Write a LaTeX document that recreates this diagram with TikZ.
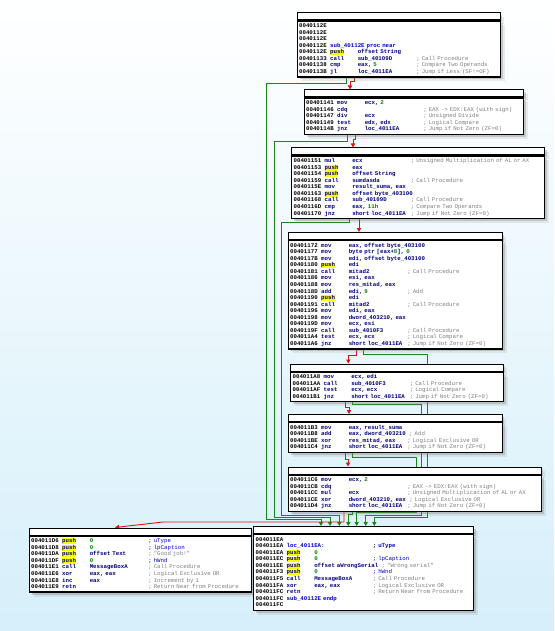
\documentclass[tikz,border=0pt]{standalone}
\usepackage{fontspec}
\usetikzlibrary{arrows.meta,calc,shadows}
\newfontfamily\asmfont{Liberation Mono}
\definecolor{addrc}{HTML}{000000}
\definecolor{mnc}{HTML}{000080}
\definecolor{namec}{HTML}{0000C8}
\definecolor{numc}{HTML}{008000}
\definecolor{cmtc}{HTML}{808080}
\definecolor{hlc}{HTML}{FFFF00}
\definecolor{gedgec}{HTML}{138A13}
\definecolor{redgec}{HTML}{E41010}
\definecolor{bgbot}{HTML}{D6EFFA}
\newlength\chw \setlength\chw{3.45pt}
\newcommand\asmnum[1]{\textcolor{numc}{#1}}
\newcommand\asmblue[1]{\textcolor{namec}{#1}}
\newcommand\asmpush{{\setlength\fboxsep{0pt}\colorbox{hlc}{\rule[-1.3pt]{0pt}{5.6pt}push}}}
\newcommand\asmop[2]{\if\relax\detokenize{#2}\relax{\color{mnc}#1}\else\sbox0{\color{mnc}#1}\ifdim\wd0<16.5\chw\makebox[17\chw][l]{\usebox0}\else\usebox0\hspace{\chw}\fi{\mdseries\color{cmtc}#2}\fi}
\newcommand\asmI[4]{\mbox{\rule[-1.65pt]{0pt}{6.55pt}\makebox[9\chw][l]{\textcolor{addrc}{#1}}\makebox[8\chw][l]{\color{mnc}#2}\asmop{#3}{#4}}}
\newcommand\asmJ[3]{\mbox{\rule[-1.65pt]{0pt}{6.55pt}\makebox[9\chw][l]{\textcolor{addrc}{#1}}\if\relax\detokenize{#3}\relax #2\else\makebox[25\chw][l]{#2}{\color{cmtc}#3}\fi}}
\newcommand\asmsetfont{\asmfont\bfseries\fontsize{5.75}{6.55}\selectfont\lineskiplimit=-5pt\relax}
\pgfdeclarelayer{bglayer}
\pgfdeclarelayer{edgelayer}
\pgfsetlayers{bglayer,edgelayer,main}
\tikzset{
  shd/.style={drop shadow={shadow xshift=2.5pt, shadow yshift=-2.5pt, opacity=0.3, fill=black!55},
              drop shadow={shadow xshift=4.5pt, shadow yshift=-4.5pt, opacity=0.15, fill=black!50}},
  ttl/.style={draw=black, line width=0.9pt, fill=white, minimum height=7pt, inner sep=0pt, anchor=north west, shd},
  body/.style={draw=black, line width=1.2pt, fill=white, inner xsep=2pt, inner ysep=1.8pt, anchor=north west,
               align=left, font={\asmsetfont}, shd},
  gedge/.style={draw=gedgec, line width=0.9pt, -{Triangle[length=4pt,width=4.2pt]}},
  redge/.style={draw=redgec, line width=0.9pt, -{Triangle[length=4pt,width=4.2pt]}}
}
\begin{document}
\begin{tikzpicture}[x=1pt,y=-1pt]
\useasboundingbox (0,0) rectangle (554,631);
\begin{pgfonlayer}{bglayer}
\shade[top color=white, middle color=white!55!bgbot, bottom color=bgbot] (0,0) rectangle (554,631);
\end{pgfonlayer}

% block 1
\node[ttl, minimum width=203pt] (h1) at (296.5,12.5) {};
\node[body, text width=199pt] (b1) at (h1.south west) {%
\asmI{0040112E}{}{}{}\\
\asmI{0040112E}{}{}{}\\
\asmI{0040112E}{}{}{}\\
\asmJ{0040112E}{\asmblue{sub\_40112E proc near}}{}\\
\asmI{0040112E}{\asmpush}{offset String}{}\\
\asmI{00401133}{call}{sub\_40109D}{; Call Procedure}\\
\asmI{00401138}{cmp}{eax, \asmnum{5}}{; Compare Two Operands}\\
\asmI{0040113B}{jl}{loc\_4011EA}{; Jump if Less (SF!=OF)}};

% block 2
\node[ttl, minimum width=219.5pt] (h2) at (303.5,89.5) {};
\node[body, text width=215.5pt] (b2) at (h2.south west) {%
\asmI{00401141}{mov}{ecx, \asmnum{2}}{}\\
\asmI{00401146}{cdq}{}{; EAX -> EDX:EAX (with sign)}\\
\asmI{00401147}{div}{ecx}{; Unsigned Divide}\\
\asmI{00401149}{test}{edx, edx}{; Logical Compare}\\
\asmI{0040114B}{jnz}{loc\_4011EA}{; Jump if Not Zero (ZF=0)}};

% block 3
\node[ttl, minimum width=253pt] (h3) at (291,147.5) {};
\node[body, text width=249pt] (b3) at (h3.south west) {%
\asmI{00401151}{mul}{ecx}{; Unsigned Multiplication of AL or AX}\\
\asmI{00401153}{\asmpush}{eax}{}\\
\asmI{00401154}{\asmpush}{offset String}{}\\
\asmI{00401159}{call}{sumdasda}{; Call Procedure}\\
\asmI{0040115E}{mov}{result\_suma, eax}{}\\
\asmI{00401163}{\asmpush}{offset byte\_403100}{}\\
\asmI{00401168}{call}{sub\_40109D}{; Call Procedure}\\
\asmI{0040116D}{cmp}{eax, \asmnum{11h}}{; Compare Two Operands}\\
\asmI{00401170}{jnz}{short loc\_4011EA}{; Jump if Not Zero (ZF=0)}};

% block 4
\node[ttl, minimum width=214pt] (h4) at (287.5,232) {};
\node[body, text width=210pt] (b4) at (h4.south west) {%
\asmI{00401172}{mov}{eax, offset byte\_403100}{}\\
\asmI{00401177}{mov}{byte ptr [eax+\asmnum{8}], \asmnum{0}}{}\\
\asmI{0040117B}{mov}{edi, offset byte\_403100}{}\\
\asmI{00401180}{\asmpush}{edi}{}\\
\asmI{00401181}{call}{mitad2}{; Call Procedure}\\
\asmI{00401186}{mov}{esi, eax}{}\\
\asmI{00401188}{mov}{res\_mitad, eax}{}\\
\asmI{0040118D}{add}{edi, \asmnum{9}}{; Add}\\
\asmI{00401190}{\asmpush}{edi}{}\\
\asmI{00401191}{call}{mitad2}{; Call Procedure}\\
\asmI{00401196}{mov}{edi, eax}{}\\
\asmI{00401198}{mov}{dword\_403210, eax}{}\\
\asmI{0040119D}{mov}{ecx, esi}{}\\
\asmI{0040119F}{call}{sub\_4010F3}{; Call Procedure}\\
\asmI{004011A4}{test}{ecx, ecx}{; Logical Compare}\\
\asmI{004011A6}{jnz}{short loc\_4011EA}{; Jump if Not Zero (ZF=0)}};

% block 5
\node[ttl, minimum width=212.5pt] (h5) at (290,363.5) {};
\node[body, text width=208.5pt] (b5) at (h5.south west) {%
\asmI{004011A8}{mov}{ecx, edi}{}\\
\asmI{004011AA}{call}{sub\_4010F3}{; Call Procedure}\\
\asmI{004011AF}{test}{ecx, ecx}{; Logical Compare}\\
\asmI{004011B1}{jnz}{short loc\_4011EA}{; Jump if Not Zero (ZF=0)}};

% block 6
\node[ttl, minimum width=214pt] (h6) at (287.5,414) {};
\node[body, text width=210pt] (b6) at (h6.south west) {%
\asmI{004011B3}{mov}{eax, result\_suma}{}\\
\asmI{004011B8}{add}{eax, dword\_403210}{; Add}\\
\asmI{004011BE}{xor}{res\_mitad, eax}{; Logical Exclusive OR}\\
\asmI{004011C4}{jnz}{short loc\_4011EA}{; Jump if Not Zero (ZF=0)}};

% block 7
\node[ttl, minimum width=253pt] (h7) at (287.5,466.5) {};
\node[body, text width=249pt] (b7) at (h7.south west) {%
\asmI{004011C6}{mov}{ecx, \asmnum{2}}{}\\
\asmI{004011CB}{cdq}{}{; EAX -> EDX:EAX (with sign)}\\
\asmI{004011CC}{mul}{ecx}{; Unsigned Multiplication of AL or AX}\\
\asmI{004011CE}{xor}{dword\_403210, eax}{; Logical Exclusive OR}\\
\asmI{004011D4}{jnz}{short loc\_4011EA}{; Jump if Not Zero (ZF=0)}};

% block 8
\node[ttl, minimum width=222pt] (h8) at (28.5,527.5) {};
\node[body, text width=218pt] (b8) at (h8.south west) {%
\asmI{004011D6}{\asmpush}{\asmnum{0}}{\asmblue{; uType}}\\
\asmI{004011D8}{\asmpush}{\asmnum{0}}{\asmblue{; lpCaption}}\\
\asmI{004011DA}{\asmpush}{offset Text}{; "Good job!"}\\
\asmI{004011DF}{\asmpush}{\asmnum{0}}{\asmblue{; hWnd}}\\
\asmI{004011E1}{call}{MessageBoxA}{; Call Procedure}\\
\asmI{004011E6}{xor}{eax, eax}{; Logical Exclusive OR}\\
\asmI{004011E8}{inc}{eax}{; Increment by 1}\\
\asmI{004011E9}{retn}{}{; Return Near from Procedure}};

% block 9
\node[ttl, minimum width=220pt] (h9) at (253,526) {};
\node[body, text width=216pt] (b9) at (h9.south west) {%
\asmI{004011EA}{}{}{}\\
\asmJ{004011EA}{\asmblue{loc\_4011EA:}}{\asmblue{; uType}}\\
\asmI{004011EA}{\asmpush}{\asmnum{0}}{}\\
\asmI{004011EC}{\asmpush}{\asmnum{0}}{\asmblue{; lpCaption}}\\
\asmI{004011EE}{\asmpush}{offset aWrongSerial}{; "Wrong serial"}\\
\asmI{004011F3}{\asmpush}{\asmnum{0}}{\asmblue{; hWnd}}\\
\asmI{004011F5}{call}{MessageBoxA}{; Call Procedure}\\
\asmI{004011FA}{xor}{eax, eax}{; Logical Exclusive OR}\\
\asmI{004011FC}{retn}{}{; Return Near from Procedure}\\
\asmJ{004011FC}{\asmblue{sub\_40112E endp}}{}\\
\asmI{004011FC}{}{}{}};

\begin{pgfonlayer}{edgelayer}
\draw[gedge] ($(b1.south west)+(49.5,0)$) |- (266.7,83) |- (321,519) -- ($(h9.north west)+(68,0)$);
\draw[redge] ($(b1.south west)+(57.5,0)$) |- (350,81) -- ($(h2.north west)+(46.5,0)$);
\draw[gedge] ($(b2.south west)+(44.2,0)$) |- (274.5,141) |- (330,517) -- ($(h9.north west)+(77,0)$);
\draw[redge] ($(b2.south west)+(51.5,0)$) |- (353,139) -- ($(h3.north west)+(62,0)$);
\draw[gedge] ($(b3.south west)+(58,0)$) |- (281.6,222.5) |- (339.3,515) -- ($(h9.north west)+(86.3,0)$);
\draw[redge] ($(b3.south west)+(68,0)$) -- ($(h4.north west)+(71.5,0)$);
\draw[gedge] ($(b4.south west)+(75.8,0)$) |- (427.5,354) |- (374.3,517.5) -- ($(h9.north west)+(121.3,0)$);
\draw[redge] ($(b4.south west)+(69.2,0)$) |- (348.3,355.5) -- ($(h5.north west)+(58.3,0)$);
\draw[gedge] ($(b5.south west)+(62.7,0)$) |- (421.7,404) |- (365.7,515) -- ($(h9.north west)+(112.7,0)$);
\draw[redge] ($(b5.south west)+(55,0)$) |- (349,407) -- ($(h6.north west)+(61.5,0)$);
\draw[gedge] ($(b6.south west)+(65.2,0)$) |- (416.7,457) |- (356.7,512.5) -- ($(h9.north west)+(103.7,0)$);
\draw[redge] ($(b6.south west)+(57.5,0)$) |- (348,459) -- ($(h7.north west)+(60.5,0)$);
\draw[gedge] ($(b7.south west)+(65.2,0)$) |- (348.3,514) -- ($(h9.north west)+(95.3,0)$);
\draw[redge] ($(b7.south west)+(56.5,0)$) |- (163,522) -- ($(h8.north west)+(86.5,0)$);
\end{pgfonlayer}
\end{tikzpicture}
\end{document}
